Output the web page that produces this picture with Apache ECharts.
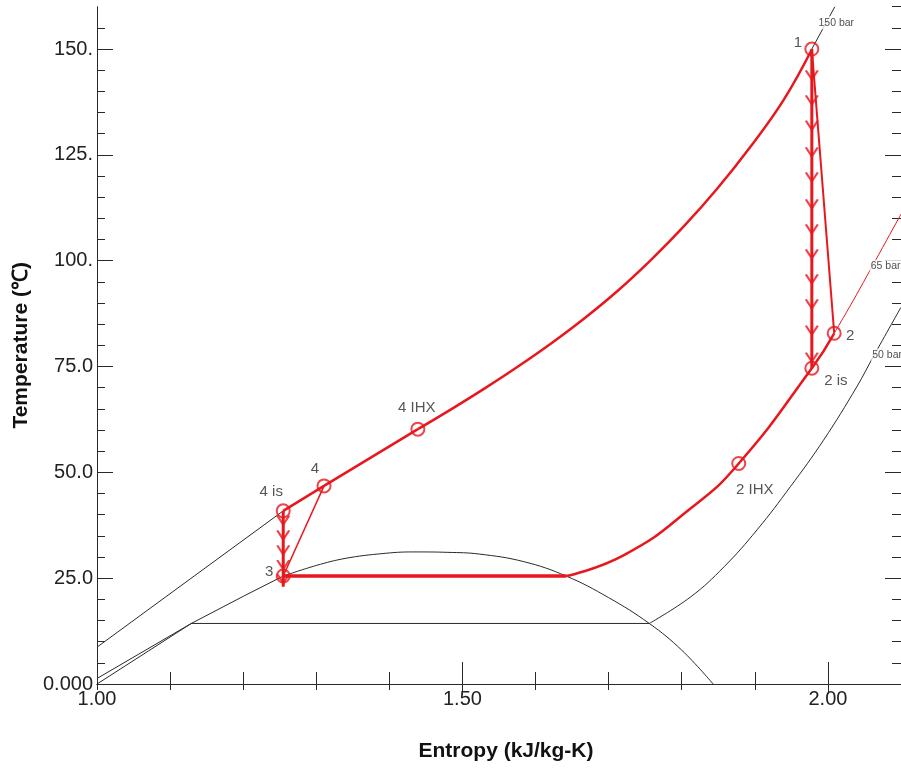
<!DOCTYPE html>
<html><head><meta charset="utf-8">
<script src="https://cdn.jsdelivr.net/npm/echarts@6/dist/echarts.min.js"></script>
<style>html,body{margin:0;padding:0;background:#fff}#c{width:901px;height:774px}</style>
</head><body><div id="c"></div>
<script>
// ---- tick labels ----
const xTickValues = [1.0, 1.5, 2.0];
const xTickLabels = ['1.00', '1.50', '2.00'];
const yTickValues = [0, 25, 50, 75, 100, 125, 150];
const yTickLabels = ['0.000', '25.0', '50.0', '75.0', '100.', '125.', '150.'];

// ---- property lines [entropy kJ/kg-K, temperature C] ----
const satLiquid = [[1.000,0.0],[1.129,14.3],[1.200,20.7],[1.2548,25.5]];
const satDomeTop = [[1.2548,25.5],[1.300,28.0],[1.3406,29.7],[1.390,30.8],[1.432,31.2],[1.480,31.1],[1.523,30.7],[1.584,28.9],[1.642,25.5],[1.700,20.4],[1.7556,14.3],[1.800,8.0],[1.843,0.0]];
const isobar50Liquid = [[1.000,1.3],[1.129,14.3],[1.7556,14.3]];
const isobar50Vapor = [[1.7556,14.3],[1.8124,20.6],[1.858,27.7],[1.903,36.4],[1.9486,46.6],[1.994,57.6],[2.0395,70.2],[2.062,77.3],[2.100,89.0]];
const isobar150Liquid = [[1.000,8.7],[1.2548,40.9]];
const isobar150Vapor = [[1.978,150.0],[2.0095,160.0]];
const isobar65Vapor = [[2.0086,82.85],[2.035,90.7],[2.100,111.0]];

// ---- cycle ----
const evaporation = [[1.2548,25.5],[1.642,25.5]];
const lowPressureGas = [[1.642,25.5],[1.7216,30.5],[1.8124,41.5],[1.878,52.1],[1.978,74.6],[2.0086,82.85]];
const compression = [[2.0086,82.85],[1.978,150.0]];
const gasCoolerCurve = [[1.978,149.9],[1.9395,138.0],[1.894,126.9],[1.849,117.1],[1.8034,108.2],[1.758,100.2],[1.7125,92.9],[1.667,86.4],[1.6217,80.5],[1.576,75.0],[1.531,69.9],[1.4855,65.0],[1.439,60.2]];
const gasCoolerEnd = [[1.439,60.2],[1.3106,46.8],[1.2548,40.9]];
const isenCompression = [[1.978,150.0],[1.978,74.6]];
const isenExpansion = [[1.2548,40.9],[1.2548,23.0]];
const actualExpansion = [[1.3106,46.8],[1.2548,25.5]];
const compArrowS = 1.978;
const compArrowT = [143.2,137.3,131.3,125.0,119.1,112.7,106.8,100.9,95.0,89.1,82.9,76.5];
const expArrowS = 1.2548;
const expArrowT = [38.0,34.5,31.0,27.5,24.2];

// ---- state points ----
const pointNames = ['1','2','2 is','2 IHX','3','4','4 is','4 IHX'];
const pointS = [1.978,2.0086,1.978,1.878,1.2548,1.3106,1.2548,1.439];
const pointT = [150.0,82.85,74.6,52.1,25.5,46.8,40.9,60.2];

// ---- isobar labels ----
const isobarNames = ['150 bar','65 bar','50 bar'];
const isobarLabelS = [2.0115,2.079,2.081];
const isobarLabelT = [156.2,98.7,77.7];

const RED = '#e8171d';
const INK = '#2a2a2a';
const FONT = 'Liberation Sans';
const labelOffsets = {'1':[-14,-6],'2':[16,3],'2 is':[24,13],'2 IHX':[16,26],'3':[-14,-4],'4':[-9,-17],'4 is':[-12,-19],'4 IHX':[-1,-21]};

function fmt(values, labels) {
  return function (v) {
    for (let i = 0; i < values.length; i++) if (Math.abs(v - values[i]) < 1e-6) return labels[i];
    return '';
  };
}
function blackLine(data, smooth) {
  return {type:'line', data, symbol:'none', silent:true, z:2, smooth:smooth||false, lineStyle:{color:INK, width:1}};
}
function redLine(data, w, z, smooth) {
  return {type:'line', data, symbol:'none', silent:true, z:z||5, smooth:smooth||false, lineStyle:{color:RED, width:w}};
}
const chevron = 'path://M0,0L6,8L12,0';

const chart = echarts.init(document.getElementById('c'), null, {renderer:'canvas'});
const baseX = {type:'value', min:1.0, max:2.1, splitLine:{show:false}};
const baseY = {type:'value', min:0, max:160, splitLine:{show:false}};
chart.setOption({
  animation:false,
  backgroundColor:'#fff',
  grid:{left:97, right:-3.4, top:6.7, bottom:90, containLabel:false},
  xAxis:[
    Object.assign({}, baseX, {position:'bottom', interval:0.1,
      axisLine:{show:true, lineStyle:{color:INK, width:1}},
      axisTick:{show:true, inside:true, length:12, lineStyle:{color:INK}},
      axisLabel:{show:true, margin:5, fontSize:20, color:'#222', fontFamily:FONT, formatter:fmt(xTickValues, xTickLabels), showMaxLabel:false},
      name:'Entropy (kJ/kg-K)', nameLocation:'middle', nameGap:57,
      nameTextStyle:{fontSize:21, fontWeight:'bold', color:'#111', fontFamily:FONT, padding:[0,0,0,14]}}),
    Object.assign({}, baseX, {position:'bottom', axisLine:{show:false},
      axisTick:{show:true, inside:true, length:22, lineStyle:{color:INK}, customValues:xTickValues}, axisLabel:{show:false}}),
    Object.assign({}, baseX, {position:'top', interval:0.1,
      axisLine:{show:true, lineStyle:{color:INK, width:1}},
      axisTick:{show:true, inside:true, length:6, lineStyle:{color:INK}}, axisLabel:{show:false}}),
    Object.assign({}, baseX, {position:'top', axisLine:{show:false},
      axisTick:{show:true, inside:true, length:10, lineStyle:{color:INK}, customValues:[1.5, 2.0]}, axisLabel:{show:false}})
  ],
  yAxis:[
    Object.assign({}, baseY, {position:'left', interval:5,
      axisLine:{show:true, lineStyle:{color:INK, width:1}},
      axisTick:{show:true, inside:true, length:8, lineStyle:{color:INK}},
      axisLabel:{show:true, margin:4, fontSize:20, color:'#222', fontFamily:FONT, formatter:fmt(yTickValues, yTickLabels), showMaxLabel:false},
      name:'Temperature (℃)', nameLocation:'middle', nameGap:65, nameRotate:90,
      nameTextStyle:{fontSize:21, fontWeight:'bold', color:'#111', fontFamily:FONT}}),
    Object.assign({}, baseY, {position:'left', axisLine:{show:false},
      axisTick:{show:true, inside:true, length:16, lineStyle:{color:INK}, customValues:yTickValues}, axisLabel:{show:false}}),
    Object.assign({}, baseY, {position:'right', interval:5,
      axisLine:{show:true, lineStyle:{color:INK, width:1}},
      axisTick:{show:true, inside:true, length:9, lineStyle:{color:INK}}, axisLabel:{show:false}}),
    Object.assign({}, baseY, {position:'right', axisLine:{show:false},
      axisTick:{show:true, inside:true, length:16, lineStyle:{color:INK}, customValues:yTickValues}, axisLabel:{show:false}})
  ],
  series:[
    blackLine(satLiquid),
    blackLine(satDomeTop, 0.4),
    blackLine(isobar50Liquid),
    blackLine(isobar50Vapor, 0.4),
    blackLine(isobar150Liquid),
    blackLine(isobar150Vapor),
    redLine(isobar65Vapor, 1, 4, 0.3),
    redLine(evaporation, 3.5),
    redLine(lowPressureGas, 2.5, 5, 0.5),
    redLine(compression, 2),
    redLine(gasCoolerCurve, 2.5, 5, 0.4),
    redLine(gasCoolerEnd, 2.5),
    redLine(isenCompression, 3),
    redLine(isenExpansion, 3),
    redLine(actualExpansion, 1.5),
    {type:'scatter', silent:true, z:6, symbol:chevron, symbolSize:[12,9], symbolOffset:[0,-3],
      itemStyle:{color:'none', borderColor:RED, borderWidth:2},
      data: compArrowT.map(t => [compArrowS, t]).concat(expArrowT.map(t => [expArrowS, t]))},
    {type:'scatter', silent:true, z:7, symbol:'circle', symbolSize:13,
      itemStyle:{color:'none', borderColor:RED, borderWidth:2},
      data: pointNames.map((n, i) => ({value:[pointS[i], pointT[i]], name:n,
        label:{show:true, position:'inside', offset:labelOffsets[n], formatter:n,
          fontSize:15, color:'#2b2b2b', fontFamily:FONT}}))},
    {type:'scatter', silent:true, z:8, symbolSize:1, itemStyle:{color:'rgba(0,0,0,0)'},
      data: isobarNames.map((n, i) => ({value:[isobarLabelS[i], isobarLabelT[i]],
        label:{show:true, position:'inside', formatter:n, fontSize:10.5, color:'#222', fontFamily:FONT,
          backgroundColor:'#fff', padding:[1,1]}}))}
  ]
});
</script></body></html>
